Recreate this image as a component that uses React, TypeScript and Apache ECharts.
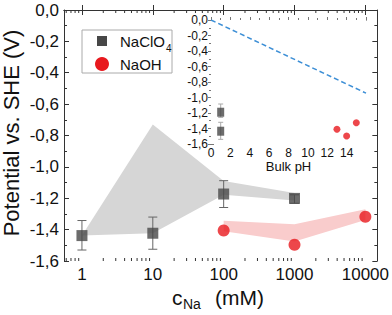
import React, { useEffect, useRef } from "react";
import * as echarts from "echarts";

// ---- data ----
const concNaClO4 = [1, 10, 100, 1000];
const potNaClO4 = [-1.438, -1.423, -1.173, -1.201];
const errLowNaClO4 = [-1.53, -1.525, -1.259, -1.232];
const errHighNaClO4 = [-1.342, -1.32, -1.088, -1.178];
const bandUpperNaClO4 = [-1.438, -0.73, -1.09, -1.167];
const bandLowerNaClO4 = [-1.438, -1.423, -1.178, -1.214];

const concNaOH = [100, 1000, 10000];
const potNaOH = [-1.406, -1.496, -1.318];
const bandUpperNaOH = [-1.344, -1.366, -1.27];
const bandLowerNaOH = [-1.41, -1.476, -1.338];

const phNaClO4 = [1, 1];
const insetPotNaClO4 = [-1.19, -1.435];
const insetLowNaClO4 = [-1.256, -1.54];
const insetHighNaClO4 = [-1.084, -1.32];
const phNaOH = [13, 14, 15];
const insetPotNaOH = [-1.41, -1.497, -1.325];
const rhePH = [0, 16];
const rhePot = [0, -0.944];

const logMinorTicks = [
  0.6, 0.7, 0.8, 0.9, 2, 3, 4, 5, 6, 7, 8, 9, 20, 30, 40, 50, 60, 70, 80, 90,
  200, 300, 400, 500, 600, 700, 800, 900, 2000, 3000, 4000, 5000, 6000, 7000,
  8000, 9000,
];

const FONT = "Liberation Sans, Arial, sans-serif";
const fmt = (v: number) => v.toFixed(1).replace(".", ",");
const fmtLog = (v: number) => String(Math.round(v));

export default function App() {
  const ref = useRef<HTMLDivElement>(null);
  useEffect(() => {
    const chart = echarts.init(ref.current!, null, { renderer: "svg" });
    const axisColor = "#333";
    const insetColor = "#777";
    const xMin = 0.558;
    const xMax = 14760;

    const band = (xs: number[], up: number[], lo: number[], fill: string, xi: number, yi: number) => ({
      type: "custom",
      xAxisIndex: xi,
      yAxisIndex: yi,
      z: 1,
      silent: true,
      data: [[xs[0], up[0]]],
      renderItem: (_p: any, api: any) => {
        const pts: number[][] = [];
        xs.forEach((x, i) => pts.push(api.coord([x, up[i]])));
        for (let i = xs.length - 1; i >= 0; i--) pts.push(api.coord([xs[i], lo[i]]));
        return { type: "polygon", shape: { points: pts }, style: { fill } };
      },
    });

    const errBars = (xs: number[], lo: number[], hi: number[], color: string, cap: number, xi: number, yi: number) => ({
      type: "custom",
      xAxisIndex: xi,
      yAxisIndex: yi,
      z: 2,
      silent: true,
      encode: { x: 0, y: [1, 2] },
      data: xs.map((x, i) => [x, lo[i], hi[i]]),
      renderItem: (_p: any, api: any) => {
        const a = api.coord([api.value(0), api.value(1)]);
        const b = api.coord([api.value(0), api.value(2)]);
        const st = { stroke: color, lineWidth: 1 };
        return {
          type: "group",
          children: [
            { type: "line", shape: { x1: a[0], y1: a[1], x2: b[0], y2: b[1] }, style: st },
            { type: "line", shape: { x1: a[0] - cap, y1: a[1], x2: a[0] + cap, y2: a[1] }, style: st },
            { type: "line", shape: { x1: b[0] - cap, y1: b[1], x2: b[0] + cap, y2: b[1] }, style: st },
          ],
        };
      },
    });

    const option: any = {
      animation: false,
      backgroundColor: "#fff",
      textStyle: { fontFamily: FONT },
      grid: [
        { left: 64, right: 14, top: 10, bottom: 54 },
        { left: 211, right: 26, top: 20, bottom: 171, show: true, backgroundColor: "#fff", borderWidth: 0, z: 5 },
      ],
      xAxis: [
        {
          type: "log", gridIndex: 0, min: xMin, max: xMax, position: "bottom",
          axisLine: { lineStyle: { color: axisColor } },
          axisTick: { inside: true, length: 5, lineStyle: { color: axisColor } },
          axisLabel: { fontSize: 17, color: "#111", margin: 5, showMinLabel: false, showMaxLabel: false, fontFamily: FONT, formatter: fmtLog },
          splitLine: { show: false },
        },
        {
          type: "log", gridIndex: 0, min: xMin, max: xMax, position: "top",
          axisLine: { lineStyle: { color: axisColor } },
          axisTick: { inside: true, length: 5, lineStyle: { color: axisColor } },
          axisLabel: { show: false },
          splitLine: { show: false },
        },
        {
          type: "value", gridIndex: 1, min: 0, max: 16, interval: 2, position: "bottom",
          axisLine: { lineStyle: { color: insetColor } },
          axisTick: { inside: true, length: 3, lineStyle: { color: insetColor } },
          minorTick: { show: true, splitNumber: 2, length: 2, lineStyle: { color: insetColor } },
          axisLabel: { fontSize: 12, color: "#111", margin: 3, showMaxLabel: false, fontFamily: FONT },
          splitLine: { show: false },
          name: "Bulk pH", nameLocation: "middle", nameGap: 15,
          nameTextStyle: { fontSize: 13, color: "#111", fontFamily: FONT },
        },
        {
          type: "value", gridIndex: 1, min: 0, max: 16, interval: 2, position: "top",
          axisLine: { lineStyle: { color: insetColor } },
          axisTick: { show: false }, axisLabel: { show: false }, splitLine: { show: false },
        },
      ],
      yAxis: [
        {
          type: "value", gridIndex: 0, min: -1.6, max: 0, interval: 0.2, position: "left",
          axisLine: { show: true, lineStyle: { color: axisColor } },
          axisTick: { show: true, inside: true, length: 5, lineStyle: { color: axisColor } },
          minorTick: { show: true, splitNumber: 2, length: 3, lineStyle: { color: axisColor } },
          axisLabel: { fontSize: 17, color: "#111", margin: 5, formatter: fmt, fontFamily: FONT },
          splitLine: { show: false },
        },
        {
          type: "value", gridIndex: 0, min: -1.6, max: 0, interval: 0.2, position: "right",
          axisLine: { show: true, lineStyle: { color: axisColor } },
          axisTick: { show: true, inside: true, length: 5, lineStyle: { color: axisColor } },
          minorTick: { show: true, splitNumber: 2, length: 3, lineStyle: { color: axisColor } },
          axisLabel: { show: false },
          splitLine: { show: false },
        },
        {
          type: "value", gridIndex: 1, min: -1.6, max: 0, interval: 0.2, position: "left",
          axisLine: { show: true, lineStyle: { color: insetColor } },
          axisTick: { show: true, inside: true, length: 3, lineStyle: { color: insetColor } },
          axisLabel: { fontSize: 12, color: "#111", margin: 3, formatter: fmt, fontFamily: FONT },
          splitLine: { show: false },
        },
        {
          type: "value", gridIndex: 1, min: -1.6, max: 0, interval: 0.2, position: "right",
          axisLine: { show: true, lineStyle: { color: insetColor } },
          axisTick: { show: true, inside: true, length: 3, lineStyle: { color: insetColor } },
          minorTick: { show: true, splitNumber: 2, length: 2, lineStyle: { color: insetColor } },
          axisLabel: { show: false },
          splitLine: { show: false },
        },
      ],
      series: [
        {
          type: "custom", xAxisIndex: 0, yAxisIndex: 0, z: 4, silent: true, clip: false,
          data: logMinorTicks.map((v) => [v, -1.6]),
          renderItem: (_p: any, api: any) => {
            const b = api.coord([api.value(0), -1.6]);
            const t = api.coord([api.value(0), 0]);
            const st = { stroke: axisColor, lineWidth: 1 };
            return {
              type: "group",
              children: [
                { type: "line", shape: { x1: b[0], y1: b[1], x2: b[0], y2: b[1] - 3 }, style: st },
                { type: "line", shape: { x1: t[0], y1: t[1], x2: t[0], y2: t[1] + 3 }, style: st },
              ],
            };
          },
        },
        band(concNaClO4, bandUpperNaClO4, bandLowerNaClO4, "#d6d6d6", 0, 0),
        band(concNaOH, bandUpperNaOH, bandLowerNaOH, "#f9cccc", 0, 0),
        errBars(concNaClO4, errLowNaClO4, errHighNaClO4, "#666", 4.5, 0, 0),
        {
          name: "NaClO4", type: "scatter", xAxisIndex: 0, yAxisIndex: 0, z: 3,
          symbol: "rect", symbolSize: 11, itemStyle: { color: "#474747" },
          data: concNaClO4.map((x, i) => [x, potNaClO4[i]]),
        },
        {
          name: "NaOH", type: "scatter", xAxisIndex: 0, yAxisIndex: 0, z: 3,
          symbol: "circle", symbolSize: 12, itemStyle: { color: "#e8191e" },
          data: concNaOH.map((x, i) => [x, potNaOH[i]]),
        },
        {
          type: "line", xAxisIndex: 2, yAxisIndex: 2, z: 6, symbol: "none",
          lineStyle: { color: "#3d8fd6", width: 1.5, type: [5, 3] },
          data: rhePH.map((x, i) => [x, rhePot[i]]),
        },
        { ...errBars(phNaClO4, insetLowNaClO4, insetHighNaClO4, "#aaa", 2.5, 2, 2), z: 6 },
        {
          type: "scatter", xAxisIndex: 2, yAxisIndex: 2, z: 7,
          symbol: "rect", symbolSize: [7, 9], itemStyle: { color: "#474747" },
          data: phNaClO4.map((x, i) => [x, insetPotNaClO4[i]]),
        },
        {
          type: "scatter", xAxisIndex: 2, yAxisIndex: 2, z: 7,
          symbol: "circle", symbolSize: 7, itemStyle: { color: "#e8191e" },
          data: phNaOH.map((x, i) => [x, insetPotNaOH[i]]),
        },
      ],
      graphic: [
        {
          type: "text", x: 11, y: 133, rotation: Math.PI / 2, z: 10,
          style: { text: "Potential vs. SHE (V)", fontSize: 22, fontFamily: FONT, fill: "#111", align: "center", verticalAlign: "middle" },
        },
        { type: "text", x: 172, y: 297, z: 10, style: { text: "c", fontSize: 21, fontFamily: FONT, fill: "#111", align: "left", verticalAlign: "middle" } },
        { type: "text", x: 183, y: 304, z: 10, style: { text: "Na", fontSize: 14, fontFamily: FONT, fill: "#111", align: "left", verticalAlign: "middle" } },
        { type: "text", x: 264, y: 297, z: 10, style: { text: "(mM)", fontSize: 21, fontFamily: FONT, fill: "#111", align: "right", verticalAlign: "middle" } },
        { type: "rect", z: 10, shape: { x: 82, y: 30, width: 90, height: 43 }, style: { fill: "#fff", stroke: "#aaa", lineWidth: 1 } },
        { type: "rect", z: 11, shape: { x: 97, y: 36, width: 10, height: 10 }, style: { fill: "#474747" } },
        { type: "circle", z: 11, shape: { cx: 102, cy: 64, r: 7 }, style: { fill: "#e8191e" } },
        { type: "text", x: 120, y: 41, z: 11, style: { text: "NaClO", fontSize: 15, fontFamily: FONT, fill: "#111", verticalAlign: "middle" } },
        { type: "text", x: 166, y: 48, z: 11, style: { text: "4", fontSize: 10, fontFamily: FONT, fill: "#111", verticalAlign: "middle" } },
        { type: "text", x: 120, y: 64, z: 11, style: { text: "NaOH", fontSize: 15, fontFamily: FONT, fill: "#111", verticalAlign: "middle" } },
      ],
    };
    chart.setOption(option);
    return () => chart.dispose();
  }, []);
  return <div ref={ref} style={{ position: "fixed", left: 0, top: 0, width: 392, height: 315 }} />;
}
